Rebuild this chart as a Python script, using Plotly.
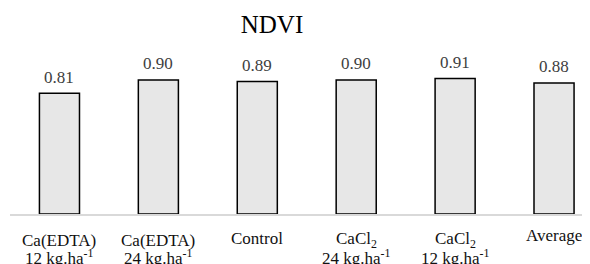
import plotly.graph_objects as go

line1 = ["Ca(EDTA)", "Ca(EDTA)", "Control", "CaCl<sub>2</sub>", "CaCl<sub>2</sub>", "Average"]
line2 = ["12 kg.ha<sup>-1</sup>", "24 kg.ha<sup>-1</sup>", "", "24 kg.ha<sup>-1</sup>", "12 kg.ha<sup>-1</sup>", ""]
values = [0.81, 0.90, 0.89, 0.90, 0.91, 0.88]
value_labels = ["0.81", "0.90", "0.89", "0.90", "0.91", "0.88"]

xs = list(range(len(values)))
FONT = "Liberation Serif, Times New Roman, serif"
W, H = 590, 264
OFF = 8  # default page body margin

fig = go.Figure()
fig.add_trace(go.Bar(
    x=xs, y=values, width=0.405,
    marker=dict(color="#e7e7e7", line=dict(color="#000000", width=1.5)),
    hoverinfo="skip",
))

for x, v, t in zip(xs, values, value_labels):
    fig.add_annotation(x=x, y=v, text=t, showarrow=False, yanchor="middle",
                       yshift=16, font=dict(family=FONT, size=17, color="#404040"))

for x, a, b in zip(xs, line1, line2):
    if b:
        s1 = -26
    elif a == "Average":
        s1 = -21
    else:
        s1 = -24
    fig.add_annotation(x=x, y=0, yref="paper", text=a, showarrow=False, yanchor="middle",
                       yshift=s1, font=dict(family=FONT, size=17, color="#111111"))
    if b:
        fig.add_annotation(x=x, y=0, yref="paper", text=b, showarrow=False, yanchor="middle",
                           yshift=-43, font=dict(family=FONT, size=17, color="#111111"))

fig.update_layout(
    width=W, height=H,
    margin=dict(l=10 - OFF, r=OFF, t=65 - OFF, b=50 + OFF),
    paper_bgcolor="white", plot_bgcolor="white",
    showlegend=False,
    title=dict(text="NDVI", x=(272 - OFF) / W, xref="container", xanchor="center",
               y=1 - (24 - OFF) / H, yref="container", yanchor="middle",
               font=dict(family=FONT, size=25, color="#000000")),
    xaxis=dict(range=[-0.5, 5.5 - 13.5/99], showticklabels=False, automargin=False,
               showgrid=False, zeroline=False, showline=True, linecolor="#d9d9d9", linewidth=1.5,
               ticks=""),
    yaxis=dict(range=[0, 1.0], visible=False, showgrid=False, zeroline=False, automargin=False),
)

fig.write_html("out.html")
